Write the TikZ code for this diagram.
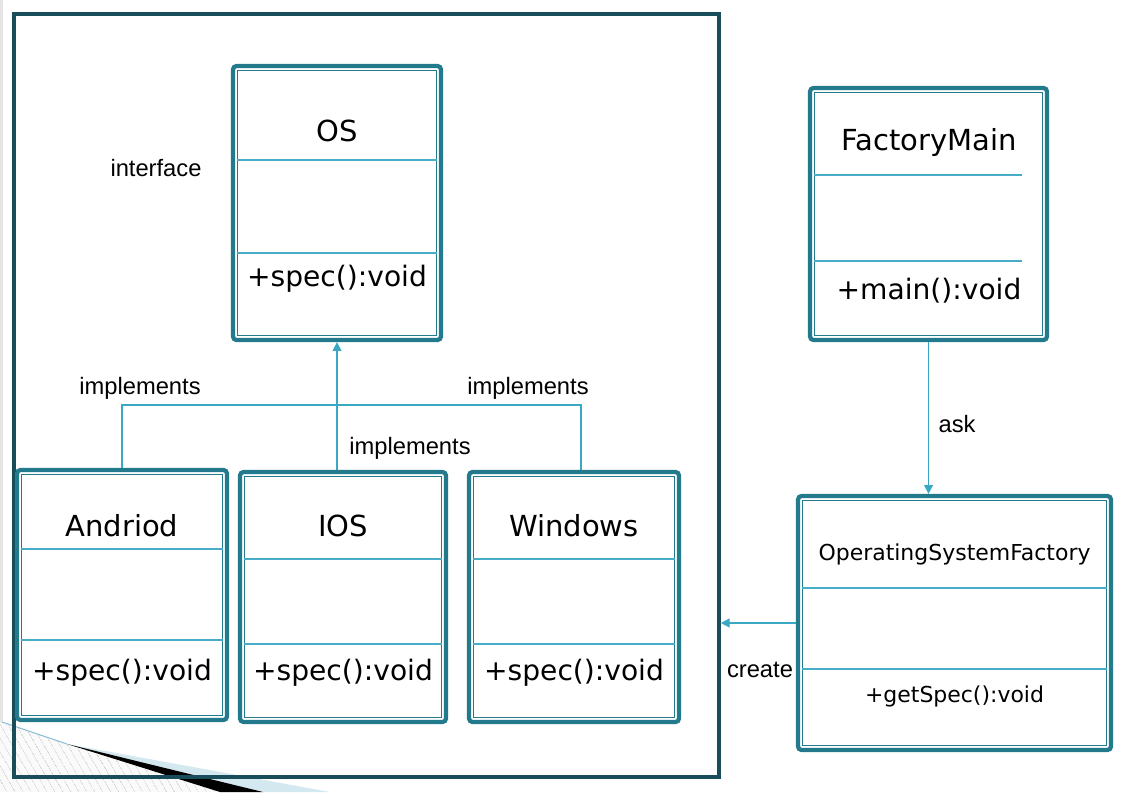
\documentclass[tikz,border=0pt]{standalone}
\usepackage{fontspec}
\setmainfont{Liberation Sans}
\newfontfamily\boxfont{DejaVu Sans}
\definecolor{boxteal}{RGB}{35, 122, 140}
\definecolor{framedark}{RGB}{26, 77, 90}
\definecolor{connblue}{RGB}{58, 168, 197}
\definecolor{divblue}{RGB}{70, 172, 200}
\definecolor{bandblue}{RGB}{212, 232, 240}
\definecolor{edgeblue}{RGB}{140, 190, 212}
\usepackage{tikz}
\usetikzlibrary{arrows.meta, positioning, calc, patterns.meta}

\begin{document}
\begin{tikzpicture}[
    umlbox/.style={draw=boxteal, line width=2.4pt, rounded corners=2pt, inner sep=0pt},
    innerline/.style={draw=boxteal, line width=0.7pt},
    divider/.style={draw=divblue, line width=0.6pt},
    title/.style={font=\boxfont\fontsize{16.5}{19}\selectfont},
    oper/.style={font=\boxfont\fontsize{16}{19}\selectfont},
    small/.style={font=\boxfont\fontsize{12.5}{15}\selectfont},
    lbl/.style={font=\fontsize{13.5}{16}\selectfont},
    conn/.style={draw=connblue, line width=0.8pt},
    arr/.style={conn, -{Triangle[width=5pt, length=5pt]}}
  ]
  \useasboundingbox (0, 0) rectangle (22.7, 15.84);

  % Slide decoration
  \draw[gray!20, line width=1.5pt] (0.03, 0) -- (0.03, 15.84);
  \fill[gray!4] (0, 1.40) -- (1.34, 0.96) -- (4.40, 0) -- (0, 0) -- cycle;
  \fill[pattern={Lines[angle=-60, distance=4pt, line width=0.5pt]}, pattern color=gray!40] (0, 1.40) -- (1.34, 0.96) -- (4.40, 0) -- (0, 0) -- cycle;
  \fill[bandblue] (1.34, 0.96) -- (6.60, 0) -- (5.26, 0) -- cycle;
  \fill[black] (1.34, 0.96) -- (5.26, 0) -- (4.40, 0) -- cycle;
  \draw[edgeblue, line width=0.6pt] (0.04, 1.40) -- (1.34, 0.96);

  % Package frame
  \node[draw=framedark, line width=2pt, minimum width=14.10cm, minimum height=15.26cm, inner sep=0] (pkg) at (7.33, 7.93) {};

  % Classes
  \node[umlbox, minimum width=4.16cm, minimum height=5.48cm] (os) at (6.74, 11.78) {};
  \node[umlbox, minimum width=4.20cm, minimum height=5.00cm] (andriod) at (2.44, 3.94) {};
  \node[umlbox, minimum width=4.12cm, minimum height=5.00cm] (ios) at (6.86, 3.90) {};
  \node[umlbox, minimum width=4.20cm, minimum height=5.00cm] (windows) at (11.48, 3.90) {};
  \node[umlbox, minimum width=4.74cm, minimum height=5.04cm] (fmain) at (18.57, 11.56) {};
  \node[umlbox, minimum width=6.26cm, minimum height=5.08cm] (osf) at (19.09, 3.38) {};

  % Inner borders
  \foreach \b in {os,andriod,ios,windows,fmain,osf}
    \draw[innerline] ([shift={(0.13, -0.13)}]\b.north west) rectangle ([shift={(-0.13, 0.13)}]\b.south east);

  % Compartments
  \foreach \b/\y/\r in {os/12.64/0.13, os/10.78/0.13, andriod/4.86/0.13, andriod/3.04/0.13,
                        ios/4.66/0.13, ios/2.96/0.13, windows/4.66/0.13, windows/2.96/0.13,
                        fmain/12.34/0.55, fmain/10.62/0.55, osf/4.08/0.13, osf/2.46/0.13}
    \draw[divider] ([xshift=0.13cm]\b.west |- 0, \y) -- ([xshift=-\r cm]\b.east |- 0, \y);

  % Names and methods
  \node[title] (os-name) at (6.74, 13.22) {OS};
  \node[oper] (os-op) at (6.74, 10.26) {+spec():void};
  \node[title] (andriod-name) at (2.44, 5.32) {Andriod};
  \node[oper] (andriod-op) at (2.44, 2.38) {+spec():void};
  \node[title] (ios-name) at (6.86, 5.32) {IOS};
  \node[oper] (ios-op) at (6.86, 2.38) {+spec():void};
  \node[title] (windows-name) at (11.48, 5.32) {Windows};
  \node[oper] (windows-op) at (11.48, 2.38) {+spec():void};
  \node[title] (fmain-name) at (18.58, 12.98) {FactoryMain};
  \node[oper] (fmain-op) at (18.58, 10.02) {+main():void};
  \node[small] (osf-name) at (19.09, 4.76) {OperatingSystemFactory};
  \node[small] (osf-op) at (19.09, 1.92) {+getSpec():void};

  % Realisation
  \coordinate (bus) at (0, 7.74);
  \draw[arr] (ios.north -| os.south) -- (os.south);
  \draw[conn] (andriod.north) -- (andriod.north |- bus) -- ([xshift=0.14cm]windows.north |- bus) -- ([xshift=0.14cm]windows.north);

  % Factory links
  \draw[arr] (fmain.south) -- (fmain.south |- osf.north);
  \draw[arr] (osf.west) -- (osf.west -| pkg.east);

  % Labels
  \node[lbl] (l-iface) at (3.12, 12.48) {interface};
  \node[lbl] (l-impl1) at (2.80, 8.08) {implements};
  \node[lbl] (l-impl2) at (10.56, 8.08) {implements};
  \node[lbl] (l-impl3) at (8.20, 6.88) {implements};
  \node[lbl] (l-ask) at (19.14, 7.36) {ask};
  \node[lbl] (l-create) at (15.20, 2.44) {create};
\end{tikzpicture}
\end{document}
